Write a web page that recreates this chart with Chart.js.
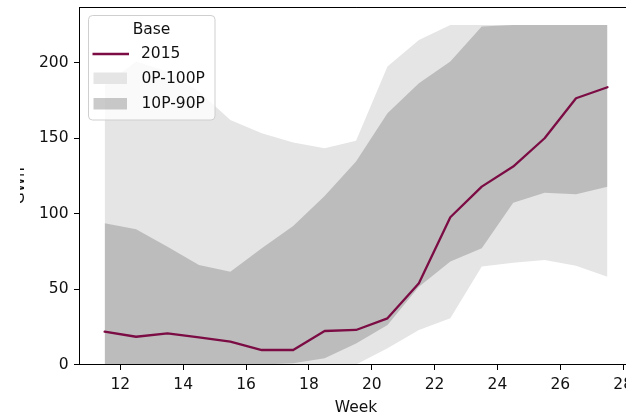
<!DOCTYPE html>
<html>
<head>
<meta charset="utf-8">
<title>Base 2015 vs percentile bands</title>
<script src="https://cdn.jsdelivr.net/npm/chart.js@4"></script>
<style>
  html, body { margin: 0; padding: 0; background: #fff; width: 626px; height: 416px; overflow: hidden; }
  /* the frame trims the far-left strip of the figure, as in the exported figure */
  #frame { position: absolute; left: 20px; top: 0; width: 606px; height: 416px; overflow: hidden; }
  #c { position: absolute; left: -20px; top: 0; }
</style>
</head>
<body>
<div id="frame"><canvas id="c" width="660" height="416"></canvas></div>
<script>
// Week numbers (mid-week positions)
const weeks = [11.5, 12.5, 13.5, 14.5, 15.5, 16.5, 17.5, 18.5, 19.5, 20.5, 21.5, 22.5, 23.5, 24.5, 25.5, 26.5, 27.5];

// 2015 values, GWh
const actual2015 = [21.8, 18.4, 20.7, 18.0, 15.1, 9.6, 9.6, 22.2, 22.9, 30.6, 53.8, 97.6, 117.9, 131.2, 150.0, 176.5, 183.8];

// Percentile envelopes, GWh
const p0   = [0, 0, 0, 0, 0, 0, 0, 0, 0, 10.7, 22.9, 30.6, 64.9, 67.5, 69.3, 65.5, 58.2];
const p10  = [0, 0, 0, 0, 0, 0, 0.8, 4.1, 14.0, 26.2, 51.6, 68.2, 77.1, 107.3, 113.9, 112.9, 117.9];
const p90  = [93.6, 89.7, 78.1, 66.0, 61.5, 77.1, 91.8, 111.7, 134.5, 166.6, 186.5, 200.8, 224.0, 225, 225, 225, 225];
const p100 = [185, 200.8, 194.2, 180.9, 162.1, 153.3, 147.1, 143.4, 148.4, 197.5, 215.2, 225, 225, 225, 225, 225, 225];

// Axis ticks and labels
const xTicks = [12, 14, 16, 18, 20, 22, 24, 26, 28];
const yTicks = [0, 50, 100, 150, 200];
const xTitle = 'Week';
const yTitle = 'GWh';
const legendTitle = 'Base';
const seriesLabels = ['2015', '0P-100P', '10P-90P'];

const FONT = '"DejaVu Sans", sans-serif';
const FS = 15.5;
const TEXT = '#111';
const LINE = '#7b0c44';
const LIGHT = 'rgb(229,229,229)';
const DARK = 'rgba(138,138,138,0.45)';

const pts = vals => weeks.map((w, i) => ({ x: w, y: vals[i] }));

// top spine
const framePlugin = {
  id: 'topSpine',
  afterDatasetsDraw(chart) {
    const { ctx, chartArea: a } = chart;
    ctx.save();
    ctx.strokeStyle = '#000';
    ctx.lineWidth = 1;
    ctx.beginPath();
    ctx.moveTo(a.left, a.top + 0.5);
    ctx.lineTo(a.right, a.top + 0.5);
    ctx.lineTo(a.right, a.bottom);
    ctx.stroke();
    ctx.restore();
  }
};

// legend box in the upper-left corner of the plot
const legendPlugin = {
  id: 'bandLegend',
  afterDraw(chart) {
    const { ctx, chartArea: a } = chart;
    const L = a.left, T = a.top;
    ctx.save();
    ctx.beginPath();
    ctx.roundRect(L + 9, T + 8.5, 126.5, 104.5, 4);
    ctx.fillStyle = 'rgba(255,255,255,0.8)';
    ctx.fill();
    ctx.strokeStyle = '#cfcfcf';
    ctx.lineWidth = 1;
    ctx.stroke();

    ctx.font = FS + 'px ' + FONT;
    ctx.fillStyle = TEXT;
    ctx.textBaseline = 'middle';
    ctx.textAlign = 'center';
    ctx.fillText(legendTitle, L + 72, T + 23);

    ctx.textAlign = 'left';
    // 2015 line
    ctx.strokeStyle = LINE;
    ctx.lineWidth = 2.3;
    ctx.beginPath();
    ctx.moveTo(L + 13, T + 47);
    ctx.lineTo(L + 49.5, T + 47);
    ctx.stroke();
    ctx.fillStyle = TEXT;
    ctx.fillText(seriesLabels[0], L + 61.5, T + 47);

    // 0P-100P patch
    ctx.fillStyle = LIGHT;
    ctx.fillRect(L + 14, T + 65.5, 33.5, 11.5);
    ctx.fillStyle = TEXT;
    ctx.fillText(seriesLabels[1], L + 62, T + 71.5);

    // 10P-90P patch
    ctx.fillStyle = DARK;
    ctx.fillRect(L + 14, T + 91, 33.5, 11.5);
    ctx.fillStyle = TEXT;
    ctx.fillText(seriesLabels[2], L + 62, T + 97);
    ctx.restore();
  }
};

const tickFont = { family: FONT, size: FS };

new Chart(document.getElementById('c'), {
  type: 'line',
  data: {
    datasets: [
      { label: seriesLabels[0], data: pts(actual2015), borderColor: LINE, borderWidth: 2.3,
        pointRadius: 0, fill: false, tension: 0, borderJoinStyle: 'round', borderCapStyle: 'round' },
      { label: seriesLabels[2], data: pts(p90), borderColor: 'rgba(0,0,0,0)', borderWidth: 0,
        pointRadius: 0, fill: '+1', backgroundColor: DARK, tension: 0 },
      { label: '10P', data: pts(p10), borderColor: 'rgba(0,0,0,0)', borderWidth: 0,
        pointRadius: 0, fill: false, tension: 0 },
      { label: seriesLabels[1], data: pts(p100), borderColor: 'rgba(0,0,0,0)', borderWidth: 0,
        pointRadius: 0, fill: '+1', backgroundColor: LIGHT, tension: 0 },
      { label: '0P', data: pts(p0), borderColor: 'rgba(0,0,0,0)', borderWidth: 0,
        pointRadius: 0, fill: false, tension: 0 }
    ]
  },
  options: {
    responsive: false,
    animation: false,
    devicePixelRatio: 1,
    layout: { padding: { left: 0, top: 7, right: 27.4, bottom: 0 } },
    plugins: { legend: { display: false }, tooltip: { enabled: false }, title: { display: false } },
    scales: {
      x: {
        type: 'linear', min: 10.7, max: 28.3,
        afterBuildTicks: s => { s.ticks = xTicks.map(v => ({ value: v })); },
        afterFit: s => { s.height = 51.5; s.paddingLeft = 0; s.paddingRight = 0; },
        grid: { display: true, drawOnChartArea: false, drawTicks: true, tickLength: 5.5, tickColor: '#000', lineWidth: 1 },
        border: { display: true, color: '#000', width: 1, z: 1 },
        ticks: { color: TEXT, font: tickFont, padding: 5.5, maxRotation: 0, autoSkip: false,
                 callback: v => String(v) },
        title: { display: true, text: xTitle, color: TEXT, font: { family: FONT, size: FS, lineHeight: 1 },
                 padding: { top: 0, bottom: 0.5 } }
      },
      y: {
        type: 'linear', min: 0, max: 237,
        afterBuildTicks: s => { s.ticks = yTicks.map(v => ({ value: v })); },
        afterFit: s => { s.width = 79.5; s.paddingTop = 0; s.paddingBottom = 0; },
        grid: { display: true, drawOnChartArea: false, drawTicks: true, tickLength: 5.5, tickColor: '#000', lineWidth: 1 },
        border: { display: true, color: '#000', width: 1, z: 1 },
        ticks: { color: TEXT, font: tickFont, padding: 5.5, callback: v => String(v) },
        title: { display: true, text: yTitle, color: TEXT, font: { family: FONT, size: FS, lineHeight: 1 },
                 padding: { top: 11.85, bottom: 0 } }
      }
    }
  },
  plugins: [framePlugin, legendPlugin]
});
</script>
</body>
</html>
